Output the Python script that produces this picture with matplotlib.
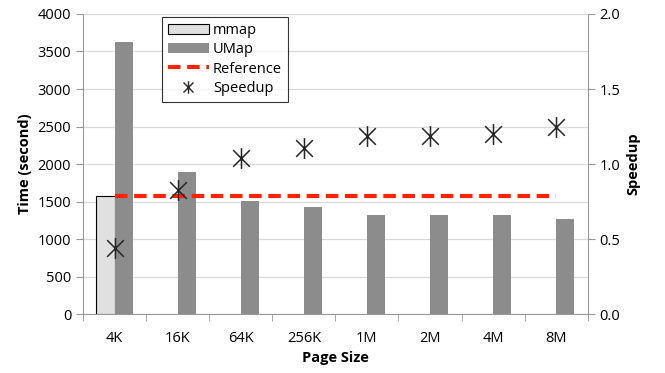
import matplotlib
matplotlib.use("Agg")
import matplotlib.pyplot as plt
import numpy as np
from matplotlib.lines import Line2D
from matplotlib.patches import Patch
from matplotlib.path import Path

categories = ["4K", "16K", "64K", "256K", "1M", "2M", "4M", "8M"]
mmap_time = [1570, 0, 0, 0, 0, 0, 0, 0]
umap_time = [3620, 1890, 1510, 1425, 1320, 1320, 1320, 1265]
speedup = [0.44, 0.83, 1.04, 1.11, 1.19, 1.19, 1.20, 1.25]
reference = [0.79] * 8
left_ticks = [0, 500, 1000, 1500, 2000, 2500, 3000, 3500, 4000]
right_ticks = [0.0, 0.5, 1.0, 1.5, 2.0]

plt.rcParams['font.family'] = ['Open Sans', 'DejaVu Sans']

star = Path([(0, -1), (0, 1), (-0.8, -0.8), (0.8, 0.8), (-0.8, 0.8), (0.8, -0.8)],
            [Path.MOVETO, Path.LINETO, Path.MOVETO, Path.LINETO, Path.MOVETO, Path.LINETO])

fig = plt.figure(figsize=(6.65, 3.73), dpi=100)
ax = fig.add_axes([0.1248, 0.158, 0.759, 0.8045])
ax2 = ax.twinx()

x = np.arange(len(categories))
w = 0.29
ax.bar(x[:1] - w, mmap_time[:1], width=w, align='edge', color='#e0e0e0', edgecolor='black', linewidth=0.8, zorder=3)
ax.bar(x, umap_time, width=w, align='edge', color='#8c8c8c', zorder=3)

ax.set_xlim(-0.5, len(categories) - 0.5)
ax.set_ylim(0, 4000)
ax.set_yticks(left_ticks)
ax.set_xticks(x)
ax.set_xticklabels(categories)
ax.set_xticks(np.arange(len(categories) + 1) - 0.5, minor=True)
ax.tick_params(axis='x', which='major', length=0, pad=12, labelsize=10.5)
ax.tick_params(axis='x', which='minor', length=5, color='#999999', direction='out')
ax.tick_params(axis='y', length=5, color='#999999', labelsize=10.5)
ax.yaxis.grid(True, color='#d9d9d9', linewidth=0.9, zorder=0)
ax.set_axisbelow(True)
for s in ['top', 'right']:
    ax.spines[s].set_visible(False)
for s in ['left', 'bottom']:
    ax.spines[s].set_color('#999999')
ax.set_ylabel('Time (second)', fontweight='bold', fontsize=10.5)
ax.set_xlabel('Page Size', fontweight='bold', fontsize=10.5, labelpad=4)

ax2.plot(x, reference, color='#ff2200', linestyle=(0, (3, 1.6)), linewidth=3, zorder=4)
ax2.plot(x, speedup, linestyle='none', marker=star, markersize=15, color='#262626',
         markeredgewidth=1.1, zorder=5)
ax2.set_ylim(0, 2.0)
ax2.set_yticks(right_ticks)
ax2.set_yticklabels([f"{v:.1f}" for v in right_ticks])
ax2.tick_params(axis='y', length=5, color='#999999', labelsize=10.5)
for s in ['top', 'left', 'bottom']:
    ax2.spines[s].set_visible(False)
ax2.spines['right'].set_color('#999999')
ax2.set_ylabel('Speedup', fontweight='bold', fontsize=10.5)

handles = [
    Patch(facecolor='#e0e0e0', edgecolor='black', linewidth=0.8),
    Patch(facecolor='#8c8c8c'),
    Line2D([0], [0], color='#ff2200', linestyle=(0, (3, 1.6)), linewidth=3),
    Line2D([0], [0], linestyle='none', marker=star, markersize=9, color='#262626', markeredgewidth=1.0),
]
labels = ['mmap', 'UMap', 'Reference', 'Speedup']
leg = fig.legend(handles, labels, loc='upper left', bbox_to_anchor=(162/665, 1 - 17/373),
                 frameon=True, fancybox=False, edgecolor='black', fontsize=10.5,
                 handlelength=2.8, handletextpad=0.3, borderpad=0.4, labelspacing=0.3,
                 borderaxespad=0)
leg.get_frame().set_linewidth(0.8)

fig.savefig('out.png', dpi=100)
